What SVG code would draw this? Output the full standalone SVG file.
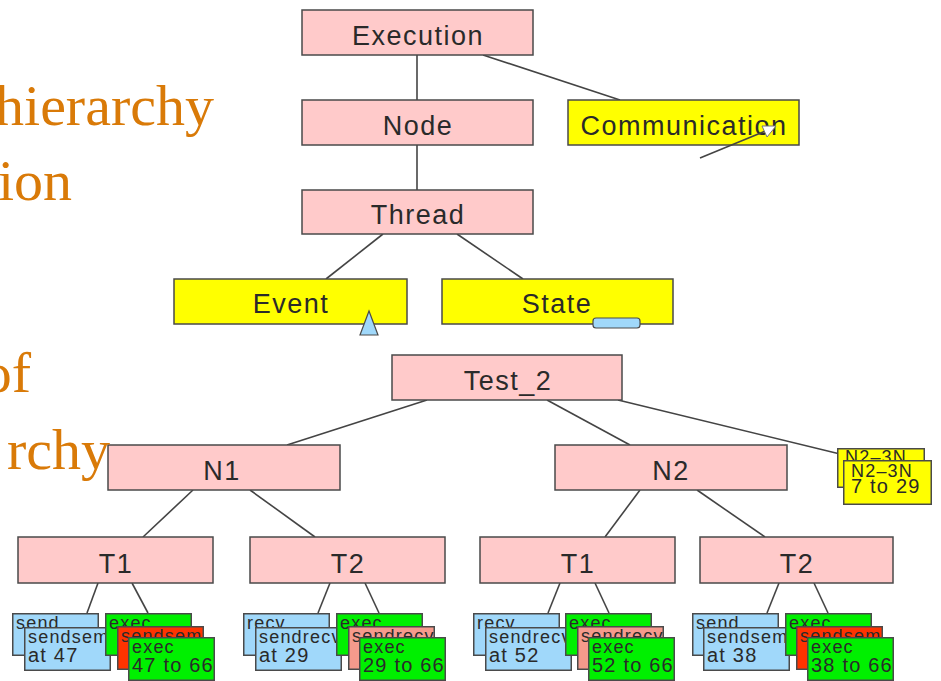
<svg xmlns="http://www.w3.org/2000/svg" width="941" height="681" viewBox="0 0 941 681">
  <style>
    .pink { fill: #ffcaca; stroke: #4a4a4a; stroke-width: 1.5; }
    .yel { fill: #ffff00; stroke: #4a4a4a; stroke-width: 1.5; }
    .blue { fill: #a0d8fa; stroke: #4a4a4a; stroke-width: 1.5; }
    .green { fill: #00f000; stroke: #4a4a4a; stroke-width: 1.5; }
    .red { fill: #ff3300; stroke: #4a4a4a; stroke-width: 1.5; }
    .salmon { fill: #f59a8c; stroke: #4a4a4a; stroke-width: 1.5; }
    .lbl { font-family: "Liberation Sans", Arial, sans-serif; font-size: 27px; letter-spacing: 1.5px; fill: #2a2a2a; text-anchor: middle; }
    .s1 { font-family: "Liberation Sans", Arial, sans-serif; font-size: 18px; letter-spacing: 1.2px; fill: #2a2a2a; }
    .s2 { font-family: "Liberation Sans", Arial, sans-serif; font-size: 20px; letter-spacing: 1.2px; fill: #2a2a2a; }
    .edge { stroke: #444; stroke-width: 1.6; fill: none; }
    .side { font-family: "Liberation Serif", "Times New Roman", serif; font-size: 58px; fill: #d97a08; text-anchor: end; }
  </style>

  <!-- connectors -->
  <g id="connectors">
    <line class="edge" x1="417" y1="55" x2="417" y2="100"/>
    <line class="edge" x1="483" y1="55" x2="620" y2="100"/>
    <line class="edge" x1="417" y1="145" x2="417" y2="190"/>
    <line class="edge" x1="383" y1="234" x2="326" y2="279"/>
    <line class="edge" x1="457" y1="234" x2="523" y2="279"/>
    <line class="edge" x1="427" y1="400" x2="287" y2="445"/>
    <line class="edge" x1="547" y1="400" x2="630" y2="445"/>
    <line class="edge" x1="618" y1="400" x2="840" y2="454"/>
    <line class="edge" x1="193" y1="490" x2="143" y2="537"/>
    <line class="edge" x1="250" y1="490" x2="315" y2="537"/>
    <line class="edge" x1="640" y1="490" x2="605" y2="537"/>
    <line class="edge" x1="697" y1="490" x2="765" y2="537"/>
    <line class="edge" x1="98" y1="583" x2="87" y2="613"/>
    <line class="edge" x1="132" y1="583" x2="148" y2="613"/>
    <line class="edge" x1="330" y1="583" x2="318" y2="613"/>
    <line class="edge" x1="365" y1="583" x2="379" y2="613"/>
    <line class="edge" x1="560" y1="583" x2="548" y2="613"/>
    <line class="edge" x1="595" y1="583" x2="609" y2="613"/>
    <line class="edge" x1="779" y1="583" x2="767" y2="613"/>
    <line class="edge" x1="814" y1="583" x2="828" y2="613"/>
  </g>

  <!-- upper tree -->
  <g id="execution">
    <rect class="pink" x="302" y="10" width="231" height="45"/>
    <text class="lbl" x="418" y="45">Execution</text>
  </g>
  <g id="node">
    <rect class="pink" x="302" y="100" width="231" height="45"/>
    <text class="lbl" x="418" y="135">Node</text>
  </g>
  <g id="communication">
    <rect class="yel" x="568" y="100" width="231" height="45"/>
    <text class="lbl" x="684" y="135">Communication</text>
    <line class="edge" x1="700" y1="158" x2="768" y2="130"/>
    <polygon points="776,126 762,126 767,137" fill="#ffffff" stroke="#777" stroke-width="1"/>
  </g>
  <g id="thread">
    <rect class="pink" x="302" y="190" width="231" height="44"/>
    <text class="lbl" x="418" y="224">Thread</text>
  </g>
  <g id="event">
    <rect class="yel" x="174" y="279" width="233" height="45"/>
    <text class="lbl" x="291" y="313">Event</text>
    <polygon points="369,311 360,335 378,335" fill="#a0d8fa" stroke="#4a4a4a" stroke-width="1.2"/>
  </g>
  <g id="state">
    <rect class="yel" x="442" y="279" width="231" height="45"/>
    <text class="lbl" x="557" y="313">State</text>
    <rect x="593" y="318" width="47" height="10" rx="3" fill="#a0d8fa" stroke="#4a4a4a" stroke-width="1.2"/>
  </g>

  <!-- lower tree -->
  <g id="test2">
    <rect class="pink" x="392" y="355" width="230" height="45"/>
    <text class="lbl" x="508" y="390">Test_2</text>
  </g>
  <g id="n1">
    <rect class="pink" x="108" y="445" width="232" height="45"/>
    <text class="lbl" x="222" y="480">N1</text>
  </g>
  <g id="n2">
    <rect class="pink" x="555" y="445" width="232" height="45"/>
    <text class="lbl" x="671" y="480">N2</text>
  </g>
  <g id="n2-3n">
    <svg x="837" y="448" width="88" height="40">
      <rect class="yel" x="0.75" y="0.75" width="86.5" height="38.5"/>
      <text class="s1" x="8" y="15">N2–3N</text>
    </svg>
    <svg x="843" y="460" width="89" height="45">
      <rect class="yel" x="0.75" y="0.75" width="87.5" height="43.5"/>
      <text class="s1" x="8" y="17">N2–3N</text>
      <text class="s2" x="8" y="33">7 to 29</text>
    </svg>
  </g>
  <g id="n1-t1">
    <rect class="pink" x="18" y="537" width="195" height="46"/>
    <text class="lbl" x="116" y="573">T1</text>
  </g>
  <g id="n1-t2">
    <rect class="pink" x="250" y="537" width="195" height="46"/>
    <text class="lbl" x="348" y="573">T2</text>
  </g>
  <g id="n2-t1">
    <rect class="pink" x="480" y="537" width="195" height="46"/>
    <text class="lbl" x="578" y="573">T1</text>
  </g>
  <g id="n2-t2">
    <rect class="pink" x="700" y="537" width="193" height="46"/>
    <text class="lbl" x="797" y="573">T2</text>
  </g>

  <!-- event stacks under each thread -->
  <g id="stack-n1-t1" transform="translate(12,613)">
    <svg x="0" y="0" width="87" height="43"><rect class="blue" x="0.75" y="0.75" width="85.5" height="41.5"/><text class="s1" x="4" y="16">send</text></svg>
    <svg x="12" y="14" width="87" height="44"><rect class="blue" x="0.75" y="0.75" width="85.5" height="42.5"/><text class="s1" x="4" y="16">sendsem</text><text class="s2" x="4" y="35">at 47</text></svg>
    <svg x="93" y="0" width="87" height="43"><rect class="green" x="0.75" y="0.75" width="85.5" height="41.5"/><text class="s1" x="4" y="16">exec</text></svg>
    <svg x="105" y="13" width="87" height="44"><rect class="red" x="0.75" y="0.75" width="85.5" height="42.5"/><text class="s1" x="4" y="16">sendsem</text></svg>
    <svg x="116" y="24" width="87" height="44"><rect class="green" x="0.75" y="0.75" width="85.5" height="42.5"/><text class="s1" x="4" y="16">exec</text><text class="s2" x="4" y="35">47 to 66</text></svg>
  </g>
  <g id="stack-n1-t2" transform="translate(243,613)">
    <svg x="0" y="0" width="87" height="43"><rect class="blue" x="0.75" y="0.75" width="85.5" height="41.5"/><text class="s1" x="4" y="16">recv</text></svg>
    <svg x="12" y="14" width="87" height="44"><rect class="blue" x="0.75" y="0.75" width="85.5" height="42.5"/><text class="s1" x="4" y="16">sendrecv</text><text class="s2" x="4" y="35">at 29</text></svg>
    <svg x="93" y="0" width="87" height="43"><rect class="green" x="0.75" y="0.75" width="85.5" height="41.5"/><text class="s1" x="4" y="16">exec</text></svg>
    <svg x="105" y="13" width="87" height="44"><rect class="salmon" x="0.75" y="0.75" width="85.5" height="42.5"/><text class="s1" x="4" y="16">sendrecv</text></svg>
    <svg x="116" y="24" width="87" height="44"><rect class="green" x="0.75" y="0.75" width="85.5" height="42.5"/><text class="s1" x="4" y="16">exec</text><text class="s2" x="4" y="35">29 to 66</text></svg>
  </g>
  <g id="stack-n2-t1" transform="translate(473,613)">
    <svg x="0" y="0" width="87" height="43"><rect class="blue" x="0.75" y="0.75" width="85.5" height="41.5"/><text class="s1" x="4" y="16">recv</text></svg>
    <svg x="12" y="14" width="87" height="44"><rect class="blue" x="0.75" y="0.75" width="85.5" height="42.5"/><text class="s1" x="4" y="16">sendrecv</text><text class="s2" x="4" y="35">at 52</text></svg>
    <svg x="92" y="0" width="87" height="43"><rect class="green" x="0.75" y="0.75" width="85.5" height="41.5"/><text class="s1" x="4" y="16">exec</text></svg>
    <svg x="104" y="13" width="87" height="44"><rect class="salmon" x="0.75" y="0.75" width="85.5" height="42.5"/><text class="s1" x="4" y="16">sendrecv</text></svg>
    <svg x="115" y="24" width="87" height="44"><rect class="green" x="0.75" y="0.75" width="85.5" height="42.5"/><text class="s1" x="4" y="16">exec</text><text class="s2" x="4" y="35">52 to 66</text></svg>
  </g>
  <g id="stack-n2-t2" transform="translate(692,613)">
    <svg x="0" y="0" width="87" height="43"><rect class="blue" x="0.75" y="0.75" width="85.5" height="41.5"/><text class="s1" x="4" y="16">send</text></svg>
    <svg x="11" y="14" width="87" height="44"><rect class="blue" x="0.75" y="0.75" width="85.5" height="42.5"/><text class="s1" x="4" y="16">sendsem</text><text class="s2" x="4" y="35">at 38</text></svg>
    <svg x="93" y="0" width="87" height="43"><rect class="green" x="0.75" y="0.75" width="85.5" height="41.5"/><text class="s1" x="4" y="16">exec</text></svg>
    <svg x="104" y="13" width="87" height="44"><rect class="red" x="0.75" y="0.75" width="85.5" height="42.5"/><text class="s1" x="4" y="16">sendsem</text></svg>
    <svg x="115" y="24" width="87" height="44"><rect class="green" x="0.75" y="0.75" width="85.5" height="42.5"/><text class="s1" x="4" y="16">exec</text><text class="s2" x="4" y="35">38 to 66</text></svg>
  </g>

  <!-- slide text on the left, partly cut at the edge -->
  <g id="side-text">
    <text class="side" x="214" y="125">hierarchy</text>
    <text class="side" x="72" y="200">ion</text>
    <text class="side" x="31" y="392">of</text>
    <text class="side" x="110" y="469">rchy</text>
  </g>
</svg>
